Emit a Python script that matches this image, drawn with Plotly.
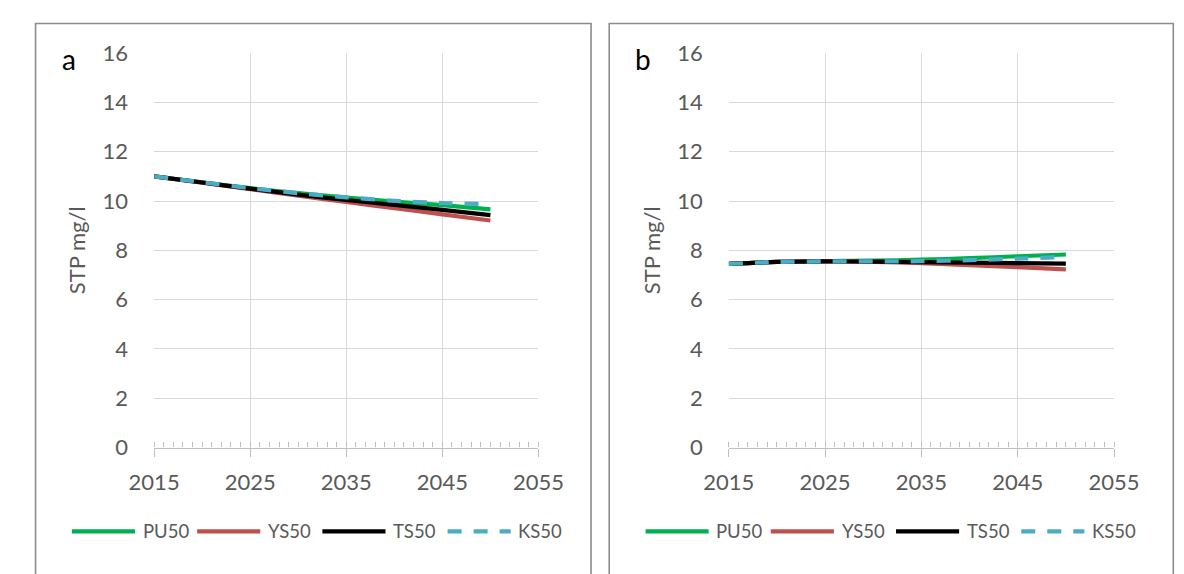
import plotly.graph_objects as go

W, H = 1184, 574

years = [2015, 2020, 2025, 2030, 2035, 2040, 2045, 2050]
series_names = ["PU50", "YS50", "TS50", "KS50"]

# Panel a
a_PU50 = [11.0, 10.76, 10.52, 10.32, 10.14, 9.98, 9.83, 9.66]
a_YS50 = [11.0, 10.74, 10.48, 10.22, 9.96, 9.71, 9.46, 9.21]
a_TS50 = [11.0, 10.75, 10.50, 10.26, 10.04, 9.84, 9.64, 9.43]
a_KS50 = [11.0, 10.76, 10.52, 10.32, 10.15, 10.01, 9.92, 9.88]

# Panel b
b_PU50 = [7.45, 7.53, 7.56, 7.58, 7.62, 7.68, 7.76, 7.83]
b_YS50 = [7.45, 7.53, 7.55, 7.53, 7.48, 7.40, 7.32, 7.23]
b_TS50 = [7.45, 7.53, 7.55, 7.54, 7.52, 7.50, 7.48, 7.46]
b_KS50 = [7.45, 7.53, 7.55, 7.55, 7.56, 7.60, 7.66, 7.73]

panel_labels = ["a", "b"]
y_title = "STP mg/l"
x_ticks = [2015, 2025, 2035, 2045, 2055]
y_ticks = [0, 2, 4, 6, 8, 10, 12, 14, 16]

colors = {"PU50": "#00b050", "YS50": "#c0504d", "TS50": "#000000", "KS50": "#4bacc6"}
dashes = {"PU50": "solid", "YS50": "solid", "TS50": "solid", "KS50": "14px,12px"}
LW = 4.2

panels = [
    {"PU50": a_PU50, "YS50": a_YS50, "TS50": a_TS50, "KS50": a_KS50},
    {"PU50": b_PU50, "YS50": b_YS50, "TS50": b_TS50, "KS50": b_KS50},
]

fig = go.Figure()
for i, pdata in enumerate(panels):
    xa = "x" if i == 0 else "x2"
    ya = "y" if i == 0 else "y2"
    for name in series_names:
        fig.add_trace(go.Scatter(
            x=years, y=pdata[name], mode="lines", name=name,
            line=dict(color=colors[name], width=LW, dash=dashes[name], shape="spline", smoothing=0.8),
            xaxis=xa, yaxis=ya, showlegend=False, hoverinfo="skip"))

FONT = "Lato"
TICKC = "#595959"
GRID = "#d9d9d9"
AXL = "#bfbfbf"

xdom = [[134 / W, 536 / W], [735 / W, 1138 / W]]
ydom = [1 - 455 / H, 1 - 41 / H]

def xaxis_cfg(dom, anchor):
    return dict(domain=dom, anchor=anchor, range=[2015, 2055], tickmode="array", tickvals=x_ticks,
                showgrid=True, gridcolor=GRID, gridwidth=1.3, zeroline=False,
                showline=True, linecolor=AXL, linewidth=1.3,
                ticks="outside", ticklen=8, tickcolor=AXL, tickwidth=1.3,
                minor=dict(dtick=1, tick0=2015, ticks="inside", ticklen=5, tickcolor=AXL, tickwidth=1, showgrid=False),
                tickfont=dict(family=FONT, size=22, color=TICKC), ticklabelstandoff=7, fixedrange=True)

def yaxis_cfg(dom, anchor):
    return dict(domain=dom, anchor=anchor, range=[0, 16], tickmode="array", tickvals=y_ticks,
                showgrid=True, gridcolor=GRID, gridwidth=1.3, zeroline=False, showline=False,
                ticks="", tickfont=dict(family=FONT, size=22, color=TICKC), ticklabelstandoff=25,
                title=dict(text=y_title, font=dict(family=FONT, size=22, color=TICKC), standoff=10),
                fixedrange=True)

fig.update_layout(
    width=W, height=H, autosize=False,
    margin=dict(l=0, r=0, t=0, b=0),
    paper_bgcolor="white", plot_bgcolor="white",
    showlegend=False,
    xaxis=xaxis_cfg(xdom[0], "y"), yaxis=yaxis_cfg(ydom, "x"),
    xaxis2=xaxis_cfg(xdom[1], "y2"), yaxis2=yaxis_cfg(ydom, "x2"),
)

shapes = []
annotations = []
frames_px = [(10, 591), (610, 1200)]
for i, (x0, x1) in enumerate(frames_px):
    shapes.append(dict(type="rect", xref="paper", yref="paper",
                       x0=x0 / W, x1=x1 / W, y0=-0.05, y1=1 - 10 / H,
                       line=dict(color="#8c8c8c", width=1.6), fillcolor="rgba(0,0,0,0)", layer="above"))
    annotations.append(dict(text=panel_labels[i], xref="paper", yref="paper",
                            x=(x0 + 35) / W, y=1 - 47 / H, xanchor="center", yanchor="middle",
                            showarrow=False, font=dict(family=FONT, size=28, color="black")))
    # manual legend
    lx = x0 + 38
    ly = 1 - 543 / H
    step = 131
    for k, name in enumerate(series_names):
        sx = lx + k * step
        shapes.append(dict(type="line", xref="paper", yref="paper",
                           x0=sx / W, x1=(sx + 66) / W, y0=ly, y1=ly,
                           line=dict(color=colors[name], width=LW, dash=dashes[name])))
        annotations.append(dict(text=name, xref="paper", yref="paper", x=(sx + 72) / W, y=ly,
                                xanchor="left", yanchor="middle", showarrow=False,
                                font=dict(family=FONT, size=18.5, color=TICKC)))

fig.update_layout(shapes=shapes, annotations=annotations)
fig.write_html("out.html", config={"displayModeBar": False},
               post_script="document.body.style.margin='0';document.body.style.overflow='hidden';")
